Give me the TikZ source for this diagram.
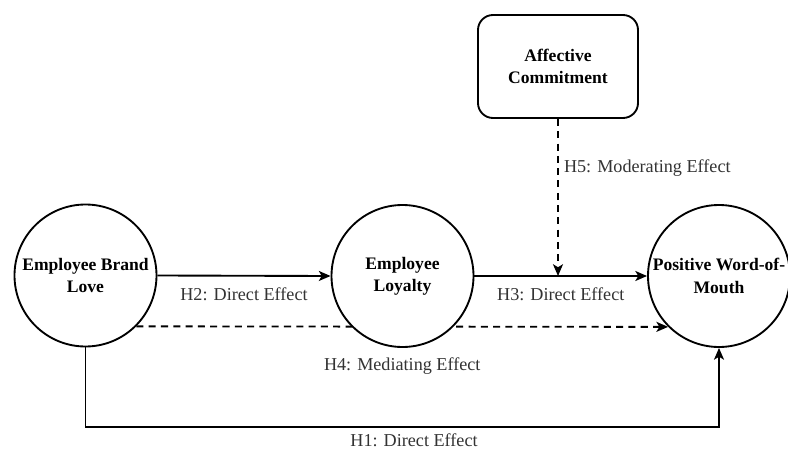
\documentclass[tikz,border=0pt]{standalone}
\usepackage{fontspec}
\setmainfont{Liberation Serif}
\usetikzlibrary{arrows.meta,positioning,backgrounds}
\tikzset{
  constructo/.style={
    circle, draw, line width=1.6pt, fill=white, align=center,
    font=\fontsize{15}{19}\selectfont\bfseries, minimum size=4.26cm,
    inner sep=0pt},
  moderador/.style={
    rectangle, rounded corners=0.45cm, draw, line width=1.6pt,
    fill=white, align=center, font=\fontsize{15}{19}\selectfont\bfseries,
    minimum width=4.8cm, minimum height=3.09cm},
  flecha/.style={-{Stealth[length=10pt,width=8.5pt,inset=2.5pt]}, line width=1.6pt},
  discont/.style={flecha, dash pattern=on 6pt off 4.5pt},
  etiq/.style={font=\fontsize{15.5}{19}\selectfont, text=black!80}
}
\begin{document}
\begin{tikzpicture}[x=0.03cm, y=-0.03cm]
\useasboundingbox (0,0) rectangle (788,450);

% Constructos
\node[constructo] (amor) at (85.5,275.5) {Employee Brand\\Love};
\node[constructo] (lealtad) at (402.5,276) {Employee\\Loyalty};
\node[constructo] (boca) at (719,276) {Positive Word-of-\\Mouth};
\node[moderador] (compromiso) at (558,66.5) {Affective\\Commitment};

\coordinate (h1) at (414,427);

% Relaciones
\draw[flecha] (amor.east) -- node[etiq, below=0.2cm]{H2: Direct Effect} (lealtad.west);
\draw[flecha] (lealtad.east) -- node[etiq, below=0.2cm]{H3: Direct Effect} (boca.west);
\draw[discont] (compromiso.south) -- node[etiq, right=1pt, pos=0.31]{H5: Moderating Effect}
  (compromiso.south |- lealtad.east);
\begin{scope}[on background layer]
\draw[discont] (amor.-45) -- node[etiq, below=0.8cm]{H4: Mediating Effect} (boca.-135);
\end{scope}
\draw[flecha] (amor.south) |- (h1) node[etiq, below=2pt]{H1: Direct Effect} -| (boca.south);

\end{tikzpicture}
\end{document}
